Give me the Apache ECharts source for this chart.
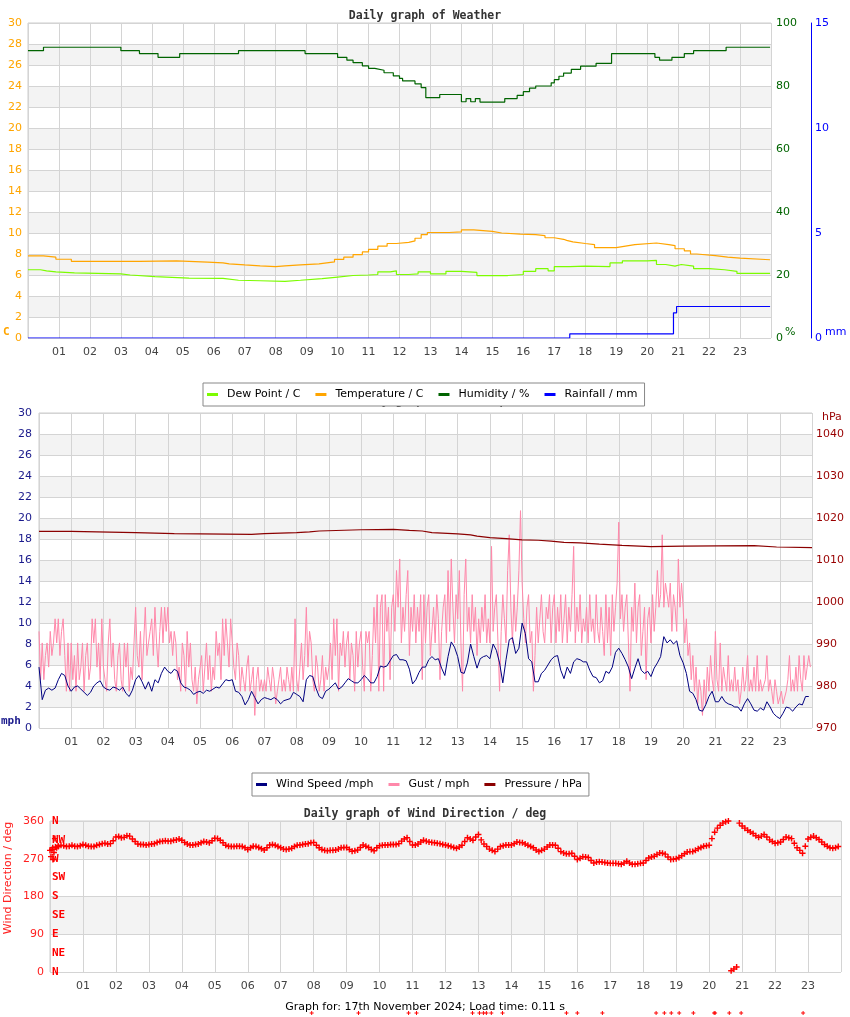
<!DOCTYPE html>
<html><head><meta charset="utf-8">
<script src="https://cdn.jsdelivr.net/npm/echarts@6/dist/echarts.min.js"></script>
<style>html,body{margin:0;padding:0;background:#fff}#c{width:850px;height:1017px}</style>
</head><body><div id="c"></div>
<script>
// ---------- DATA ----------
const hourLabels = ['01','02','03','04','05','06','07','08','09','10','11','12','13','14','15','16','17','18','19','20','21','22','23'];
// step series: [start hour] -> value
const dewT = [0,0.4,0.6,0.9,1.5,3.0,3.3,4.1,5.2,6.3,6.8,7.5,8.3,8.8,9.5,10.0,10.5,11.0,11.3,11.7,11.9,12.3,12.6,13.0,13.5,14.0,14.5,15.5,16.0,16.4,16.8,17.0,17.5,18.0,18.8,19.2,20.0,20.3,20.6,20.9,21.1,21.5,22.0,22.5,22.9,23.97];
const dewV = [6.5,6.4,6.3,6.2,6.1,6.0,5.85,5.7,5.68,5.5,5.45,5.4,5.5,5.65,5.8,5.95,6.0,6.05,6.3,6.4,6.05,6.1,6.3,6.1,6.35,6.25,5.95,6.05,6.35,6.6,6.4,6.8,6.85,6.8,7.15,7.35,7.4,7.0,6.85,7.0,6.85,6.6,6.5,6.35,6.15,6.15];
const tempT = [0,0.5,0.9,1.4,3.6,4.8,5.8,6.3,6.5,7.0,7.5,8.0,8.3,8.8,9.4,9.9,10.2,10.5,10.8,11.0,11.3,11.6,11.9,12.3,12.5,12.7,12.9,13.6,14.0,14.4,15.0,15.3,15.9,16.4,16.7,17.0,17.3,17.4,17.6,18.0,18.3,19.0,19.3,19.6,20.3,20.7,20.9,21.2,21.4,21.6,22.2,22.6,23.0,23.97];
const tempV = [7.83,7.7,7.5,7.3,7.35,7.22,7.16,7.06,6.96,6.87,6.8,6.87,6.96,7.06,7.25,7.48,7.7,7.95,8.2,8.45,8.75,9.0,9.1,9.25,9.5,9.85,10.05,10.1,10.3,10.15,10.0,9.9,9.85,9.75,9.55,9.4,9.3,9.15,9.0,8.9,8.6,8.75,8.9,9.05,8.9,8.8,8.5,8.3,8.0,7.85,7.7,7.6,7.45,7.45];
const humT = [0,0.5,3.0,3.6,4.2,4.9,6.8,8.95,10.0,10.3,10.5,10.8,11.0,11.2,11.5,11.8,12.0,12.1,12.5,12.7,12.85,13.3,14.0,14.15,14.3,14.45,14.6,15.4,15.8,16.0,16.2,16.4,16.9,17.0,17.15,17.3,17.55,17.85,18.35,18.85,20.25,20.4,20.8,21.2,21.5,22.55,23.97];
const humV = [91.2,92.3,91.2,90.3,89.1,90.3,91.2,90.3,89.1,88.2,87.4,86.4,85.6,85.0,84.2,83.2,82.4,81.6,80.7,79.5,76.3,77.3,75.0,76.0,75.0,76.0,74.9,76.0,77.0,78.2,79.3,80.0,81.0,82.0,83.1,84.1,85.3,86.3,87.2,90.3,89.1,88.2,89.1,90.3,91.2,92.3,92.3];
const rainT = [0,17.5,20.85,20.95,23.97];
const rainV = [0,0.2,1.2,1.5,1.5];
// wind speed, one value every 6 minutes
const windStep = 0.1;
const windSpeed = [
5.8,2.7,3.6,3.8,3.6,3.8,4.6,5.2,5.0,4.0,
3.5,3.9,4.0,3.7,3.4,3.1,3.4,4.0,4.3,4.5,
3.9,3.7,3.6,3.9,3.8,3.6,3.9,3.3,3.0,3.6,
4.6,5.0,4.4,3.7,4.4,3.5,4.6,4.3,5.2,5.8,
5.4,5.2,5.6,5.4,4.3,3.9,3.8,3.6,3.2,3.4,
3.5,3.3,3.6,3.5,3.7,3.9,3.8,4.2,4.6,4.5,
4.6,3.5,3.4,3.0,2.2,2.7,3.5,2.9,2.3,2.7,
2.9,2.8,2.7,2.9,2.7,2.3,2.6,2.7,2.8,3.4,
3.2,3.0,2.5,4.6,5.0,4.9,3.8,3.0,2.8,3.5,
3.7,4.0,4.3,3.7,3.9,4.3,4.7,4.5,4.3,4.3,
4.6,5.0,4.7,4.3,4.3,4.9,5.9,5.8,5.9,6.4,
6.9,7.0,6.5,6.5,6.4,5.6,4.2,4.6,5.3,5.8,
5.8,6.5,6.8,6.5,6.6,5.7,5.0,6.8,8.2,7.7,
6.8,5.3,5.2,6.2,8.0,6.8,5.7,6.6,6.8,6.9,
6.6,8.0,7.4,6.2,4.3,6.5,8.4,8.6,7.1,7.6,
10.0,9.0,6.6,6.3,4.4,4.4,5.2,5.5,6.0,6.5,
6.8,6.9,5.5,4.7,5.8,5.2,6.3,6.6,6.5,6.3,
6.3,5.5,4.9,4.8,4.3,4.5,5.4,5.2,5.8,7.2,
7.6,7.1,6.5,5.8,4.7,5.7,6.6,5.5,5.2,5.4,
4.9,5.7,6.2,6.8,8.7,8.1,8.4,8.0,8.3,6.9,
6.2,5.2,3.5,3.3,2.7,1.7,1.6,2.2,3.0,3.5,
2.5,2.5,3.0,2.5,2.3,2.2,2.0,2.0,1.6,2.3,
2.8,2.3,1.7,1.6,1.9,1.7,2.5,2.0,1.4,1.1,
0.9,1.4,2.0,1.9,1.6,2.0,2.3,2.2,3.0,3.0];
// gust, one value every 3 minutes
const gustStep = 0.05;
const gust = [
9.2,4.6,8.1,4.6,6.9,8.1,5.8,9.2,6.9,8.1,10.4,8.1,10.4,6.9,9.2,10.4,6.9,3.5,8.1,3.5,
8.1,4.6,6.9,3.5,8.1,4.6,5.8,8.1,3.5,6.9,8.1,4.6,5.8,10.4,8.1,10.4,5.8,8.1,4.6,10.4,
5.8,4.6,3.5,8.1,10.4,5.8,8.1,4.6,3.5,6.9,8.1,4.6,3.5,8.1,5.8,8.1,3.5,5.8,4.6,8.1,
11.5,6.9,5.8,9.2,4.6,8.1,11.5,6.9,8.1,9.2,10.4,6.9,11.5,8.1,5.8,9.2,11.5,8.1,11.5,9.2,
11.5,8.1,9.2,6.9,9.2,8.1,4.6,5.8,3.5,8.1,6.9,3.5,9.2,5.8,8.1,4.6,3.5,5.8,2.3,4.6,
4.6,6.9,3.5,5.8,8.1,4.6,6.9,3.5,5.8,4.6,9.2,6.9,8.1,4.6,10.4,6.9,10.4,8.1,5.8,10.4,
8.1,5.8,4.6,8.1,6.9,3.5,5.8,4.6,3.5,5.8,6.9,3.5,4.6,5.8,1.2,4.6,5.8,3.5,4.6,3.5,
4.6,3.5,5.8,4.6,3.5,5.8,4.6,2.3,3.5,4.6,5.8,3.5,4.6,3.5,5.8,4.6,3.5,5.8,3.5,10.4,
4.6,3.5,5.8,8.1,4.6,6.9,11.5,5.8,9.2,8.1,4.6,3.5,6.9,5.8,3.5,4.6,6.9,3.5,5.8,4.6,
5.8,8.1,4.6,10.4,6.9,10.4,3.5,8.1,6.9,9.2,5.8,8.1,9.2,4.6,8.1,6.9,3.5,9.2,5.8,8.1,
9.2,5.8,3.5,9.2,8.1,9.2,3.5,6.9,11.5,8.1,12.7,3.5,11.5,12.7,3.5,12.7,9.2,11.5,4.6,11.5,
12.7,9.2,15.0,11.5,16.1,8.1,11.5,9.2,12.7,15.0,6.9,11.5,9.2,12.7,8.1,11.5,9.2,12.7,4.6,12.7,
8.1,11.5,12.7,6.9,9.2,11.5,8.1,12.7,10.4,4.6,9.2,11.5,12.7,8.1,15.0,9.2,16.1,11.5,8.1,12.7,
10.4,15.0,8.1,3.5,12.7,16.1,9.2,11.5,8.1,12.7,9.2,11.5,6.9,10.4,8.1,11.5,9.2,12.7,8.1,10.4,
8.1,17.3,9.2,11.5,12.7,8.1,3.5,9.2,12.7,10.4,8.1,15.0,18.4,11.5,8.1,12.7,9.2,11.5,15.0,20.7,
13.8,10.4,8.1,11.5,12.7,8.1,9.2,3.5,6.9,11.5,8.1,10.4,12.7,9.2,8.1,11.5,10.4,12.7,8.1,11.5,
12.7,8.1,11.5,9.2,12.7,8.1,10.4,12.7,8.1,11.5,9.2,12.7,17.3,8.1,11.5,9.2,12.7,8.1,10.4,9.2,
11.5,8.1,12.7,9.2,10.4,8.1,12.7,9.2,8.1,11.5,9.2,6.9,12.7,8.1,11.5,6.9,12.7,9.2,11.5,13.8,
19.6,10.4,12.7,9.2,11.5,12.7,8.1,3.5,11.5,9.2,13.8,8.1,11.5,12.7,6.9,9.2,11.5,4.6,10.4,11.5,
8.1,12.7,9.2,11.5,15.0,11.5,12.7,18.4,11.5,13.8,12.7,11.5,13.8,9.2,12.7,11.5,9.2,16.1,11.5,13.8,
11.5,8.1,10.4,6.9,8.1,4.6,6.9,3.5,5.8,2.3,4.6,3.5,1.2,4.6,2.3,5.8,3.5,6.9,4.6,3.5,
9.2,4.6,3.5,8.1,3.5,5.8,4.6,3.5,6.9,3.5,4.6,3.5,5.8,3.5,4.6,2.3,3.5,5.8,3.5,4.6,
6.9,3.5,4.6,3.5,5.8,3.5,6.9,3.5,4.6,3.5,3.5,4.6,6.9,3.5,4.6,3.5,2.3,4.6,3.5,2.3,
2.3,3.5,2.3,2.3,3.5,4.6,6.9,3.5,4.6,3.5,5.8,3.5,6.9,4.6,3.5,6.9,4.6,5.8,6.9,5.8];
const presT = [0,1.0,3.0,4.2,6.6,7.0,8.0,8.4,8.7,10.0,11.0,11.5,11.9,12.2,13.0,13.4,13.6,14.0,14.5,15.0,15.5,15.9,16.3,16.8,17.4,18.1,19.0,20.0,22.2,22.9,24.0];
const presV = [1016.8,1016.5,1016.3,1016.1,1016.3,1016.5,1016.7,1016.9,1017.2,1017.3,1017.05,1016.9,1016.5,1016.2,1016.0,1015.7,1015.35,1015.1,1014.8,1014.7,1014.5,1014.2,1014.1,1013.8,1013.5,1013.2,1013.3,1013.4,1013.1,1012.95,1012.95];
// wind direction, one value every 5 minutes
const dirStep = 1/12;
const windDir = [
290,296,298,300,302,301,299,300,302,300,299,301,
304,302,300,299,299,302,304,306,307,305,306,313,
322,323,320,321,325,324,317,311,305,304,304,303,
304,305,306,309,311,312,313,312,312,314,315,317,
314,309,305,303,303,304,305,308,311,310,308,313,
319,318,314,308,302,300,299,299,300,300,299,296,
292,296,300,299,297,294,291,296,303,304,302,299,
296,293,292,293,295,299,302,303,304,305,306,308,
309,302,296,292,290,289,290,290,291,293,296,297,
297,292,288,289,291,297,303,300,297,292,289,296,
301,302,303,303,304,304,304,306,312,317,320,311,
303,303,305,310,314,312,310,309,308,307,306,304,
303,301,299,297,295,298,302,311,320,317,314,322,
328,315,305,299,293,290,287,293,299,301,303,303,
303,306,310,309,308,305,302,299,296,291,287,290,
293,298,303,303,302,295,287,284,282,282,283,276,
268,271,275,274,273,266,260,262,263,262,261,260,
259,259,259,258,257,260,264,260,257,257,258,259,
260,266,272,274,276,280,284,283,281,274,268,269,
270,273,277,282,286,287,287,290,294,297,300,301,
302,318,333,343,350,355,358,360,3,7,12,355,
348,343,338,334,330,325,321,324,328,322,315,311,
307,308,310,316,322,320,318,307,296,290,283,300,
317,321,324,320,316,310,304,300,296,295,296,299];
const dirExtraT = [0.03,0.06,0.09,0.12,0.15,0.2,0.25];
const dirExtraV = [275,292,268,285,318,296,300];
const dirGapT = [7.94,9.36,10.88,11.12,12.82,13.03,13.15,13.24,13.39,13.73,15.67,16.0,16.76,18.39,18.64,18.85,19.09,19.52,20.15,20.18,20.61,20.97,22.85];
const compass = {0:'N',45:'NE',90:'E',135:'SE',180:'S',225:'SW',270:'W',315:'NW',360:'N'};

// ---------- CHART ----------
const pairs = (t, v) => t.map((x, i) => [x, v[i]]);
const stepped = (arr, st) => arr.map((v, i) => [i * st, v]);
const chart = echarts.init(document.getElementById('c'), null, {renderer: 'canvas'});
const lab = {fontFamily: 'DejaVu Sans', fontSize: 11};
const band = {show: true, areaStyle: {color: ['#ffffff', '#f3f3f3']}};
const sl = {show: true, lineStyle: {color: '#d4d4d4', width: 1}};
function xAx(g) {
  return {type: 'value', gridIndex: g, min: 0, max: 24, interval: 1,
    axisLine: {show: false}, axisTick: {show: false}, splitLine: sl,
    axisLabel: Object.assign({color: '#444', margin: 9,
      formatter: v => (v > 0 && v < 24) ? hourLabels[v - 1] : ''}, lab)};
}
const plus = 'path://M0,1.9H5V3.1H0ZM1.9,0H3.1V5H1.9Z';
const titleFont = {fontFamily: 'DejaVu Sans Mono', fontWeight: 'bold', fontSize: 11.5, color: '#333'};
const legendBase = {z: 10, backgroundColor: '#fff', borderColor: '#888', borderWidth: 1,
  padding: [6, 7, 6, 4], itemGap: 15, itemWidth: 11, itemHeight: 3, icon: 'rect',
  textStyle: Object.assign({color: '#000', padding: [0, 0, 0, 4]}, lab)};
chart.setOption({
  animation: false,
  backgroundColor: '#fff',
  title: [
    {text: 'Daily graph of Weather', left: 'center', top: 5, z: 1, textStyle: titleFont},
    {text: 'Daily graph of Wind Speed', left: 349, top: 390, z: 1, textStyle: titleFont},
    {text: 'Daily graph of Wind Direction / deg', left: 'center', top: 803, z: 1, textStyle: titleFont},
    {text: 'Graph for: 17th November 2024; Load time: 0.11 s', left: 'center', top: 997, z: 1,
      textStyle: {fontFamily: 'DejaVu Sans', fontWeight: 'normal', fontSize: 11, color: '#000'}}
  ],
  legend: [
    Object.assign({left: 203, top: 383, data: ['Dew Point / C', 'Temperature / C', 'Humidity / %', 'Rainfall / mm']}, legendBase),
    Object.assign({left: 252, top: 773, data: ['Wind Speed /mph', 'Gust / mph', 'Pressure / hPa']}, legendBase)
  ],
  grid: [
    {left: 28, right: 79, top: 23, height: 315, show: true, borderColor: '#ccc', borderWidth: 1},
    {left: 39, right: 38, top: 413, height: 315, show: true, borderColor: '#ccc', borderWidth: 1},
    {left: 50, right: 9, top: 821, height: 151, show: true, borderColor: '#ccc', borderWidth: 1},
    {left: 50, right: 9, top: 1010, height: 6, show: false}
  ],
  xAxis: [xAx(0), xAx(1), xAx(2), {type: 'value', gridIndex: 3, min: 0, max: 24, show: false}],
  yAxis: [
    {type: 'value', gridIndex: 0, min: 0, max: 30, interval: 2, position: 'left',
      axisLine: {show: false}, axisTick: {show: false}, splitLine: sl, splitArea: band,
      axisLabel: Object.assign({color: '#ffa500', margin: 6}, lab)},
    {type: 'value', gridIndex: 0, min: 0, max: 100, interval: 20, position: 'right',
      axisLine: {show: false}, axisTick: {show: false}, splitLine: {show: false},
      axisLabel: Object.assign({color: '#006400', margin: 5}, lab)},
    {type: 'value', gridIndex: 0, min: 0, max: 15, interval: 5, position: 'right', offset: 40,
      axisLine: {show: true, lineStyle: {color: '#0000ff', width: 1}}, axisTick: {show: false}, splitLine: {show: false},
      axisLabel: Object.assign({color: '#0000ff', margin: 4}, lab)},
    {type: 'value', gridIndex: 1, min: 0, max: 30, interval: 2, position: 'left',
      axisLine: {show: false}, axisTick: {show: false}, splitLine: sl, splitArea: band,
      axisLabel: Object.assign({color: '#1a1a8c', margin: 7}, lab)},
    {type: 'value', gridIndex: 1, min: 970, max: 1045, interval: 10, position: 'right',
      axisLine: {show: false}, axisTick: {show: false}, splitLine: {show: false},
      axisLabel: Object.assign({color: '#990000', margin: 4, formatter: v => v > 1040 ? '' : v}, lab)},
    {type: 'value', gridIndex: 2, min: 0, max: 360, interval: 90, position: 'left',
      axisLine: {show: false}, axisTick: {show: false}, splitLine: sl, splitArea: band,
      axisLabel: Object.assign({color: '#ff2020', margin: 6}, lab)},
    {type: 'value', gridIndex: 2, min: 0, max: 360, interval: 45, position: 'left',
      axisLine: {show: false}, axisTick: {show: false}, splitLine: {show: false},
      axisLabel: {inside: true, margin: 2, color: '#ff0000', fontFamily: 'DejaVu Sans Mono', fontWeight: 'bold', fontSize: 11,
        formatter: v => compass[v] || ''}},
    {type: 'value', gridIndex: 3, min: 0, max: 2, show: false}
  ],
  graphic: [
    {type: 'text', left: 3, top: 327, style: {text: 'C', fill: '#ffa500', font: 'bold 11px "DejaVu Sans Mono"'}},
    {type: 'text', left: 785, top: 327, style: {text: '%', fill: '#006400', font: '11px "DejaVu Sans"'}},
    {type: 'text', left: 825, top: 327, style: {text: 'mm', fill: '#0000ff', font: '11px "DejaVu Sans"'}},
    {type: 'text', left: 1, top: 716, style: {text: 'mph', fill: '#1a1a8c', font: 'bold 11px "DejaVu Sans Mono"'}},
    {type: 'text', left: 822, top: 412, style: {text: 'hPa', fill: '#990000', font: '11px "DejaVu Sans"'}},
    {type: 'text', x: 8, y: 878, rotation: Math.PI / 2,
      style: {text: 'Wind Direction / deg', fill: '#ff2020', font: '11px "DejaVu Sans"', align: 'center', verticalAlign: 'middle'}}
  ],
  series: [
    {name: 'Dew Point / C', type: 'line', xAxisIndex: 0, yAxisIndex: 0, step: 'end', showSymbol: false,
      color: '#7cfc00', lineStyle: {width: 1.2}, data: pairs(dewT, dewV)},
    {name: 'Temperature / C', type: 'line', xAxisIndex: 0, yAxisIndex: 0, step: 'end', showSymbol: false,
      color: '#ffa500', lineStyle: {width: 1.2}, data: pairs(tempT, tempV)},
    {name: 'Humidity / %', type: 'line', xAxisIndex: 0, yAxisIndex: 1, step: 'end', showSymbol: false,
      color: '#006400', lineStyle: {width: 1.2}, data: pairs(humT, humV)},
    {name: 'Rainfall / mm', type: 'line', xAxisIndex: 0, yAxisIndex: 2, step: 'end', showSymbol: false,
      color: '#0000ff', lineStyle: {width: 1.2}, data: pairs(rainT, rainV)},
    {name: 'Gust / mph', type: 'line', xAxisIndex: 1, yAxisIndex: 3, showSymbol: false,
      color: '#ff88aa', lineStyle: {width: 1}, data: stepped(gust, gustStep)},
    {name: 'Wind Speed /mph', type: 'line', xAxisIndex: 1, yAxisIndex: 3, showSymbol: false,
      color: '#000080', lineStyle: {width: 1}, data: stepped(windSpeed, windStep)},
    {name: 'Pressure / hPa', type: 'line', xAxisIndex: 1, yAxisIndex: 4, step: 'end', showSymbol: false,
      color: '#8b0000', lineStyle: {width: 1.2}, data: pairs(presT, presV)},
    {name: 'Wind Direction', type: 'scatter', xAxisIndex: 2, yAxisIndex: 5, symbol: plus, symbolSize: 6,
      color: '#ff0000', itemStyle: {opacity: 1}, data: stepped(windDir, dirStep).concat(pairs(dirExtraT, dirExtraV))},
    {name: 'dirGap', type: 'scatter', xAxisIndex: 3, yAxisIndex: 7, symbol: plus, symbolSize: 4,
      color: '#ff0000', itemStyle: {opacity: 1}, data: dirGapT.map(t => [t, 1])}
  ]
});
</script></body></html>
